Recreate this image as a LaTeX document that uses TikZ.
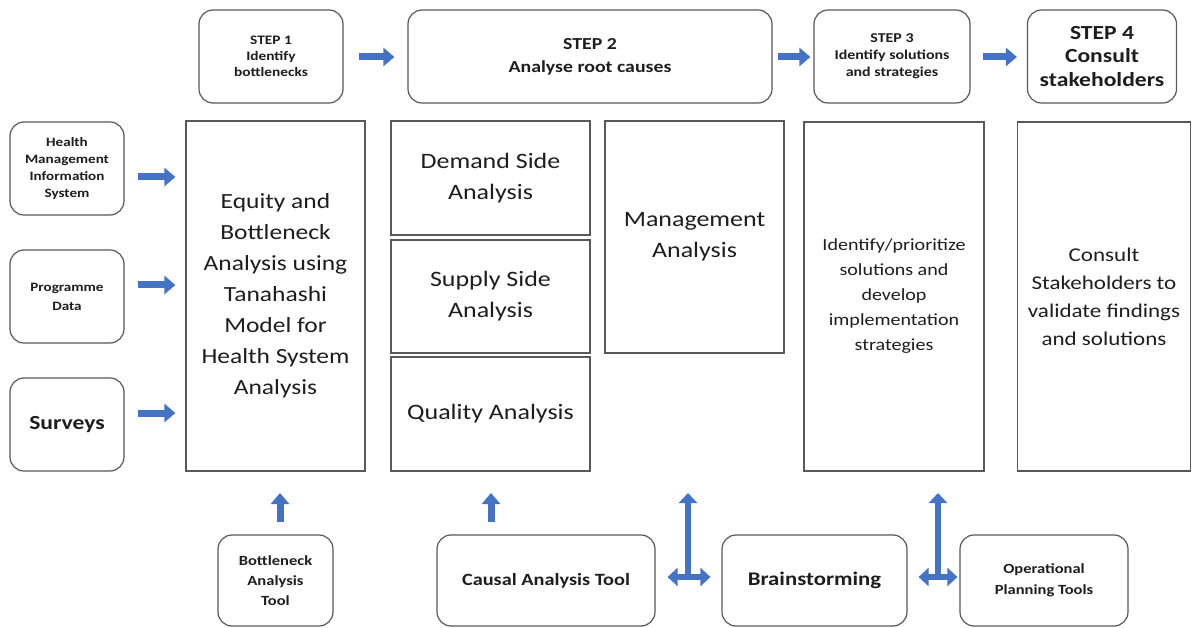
\documentclass[tikz,border=0pt]{standalone}
\usepackage{fontspec}
\setmainfont{Carlito}[FakeStretch=1.18]
\usetikzlibrary{arrows.meta}
\definecolor{abl}{HTML}{4472C4}
\definecolor{lc}{HTML}{595959}
\definecolor{tc}{HTML}{1E1E1E}
\newcommand\fsz[2]{\fontsize{#1}{#2}\selectfont}
\begin{document}
\begin{tikzpicture}[x=1pt,y=-1pt,
 box/.style={draw=lc,line width=1.2pt,text=tc,align=center,inner sep=2pt},
 rbox/.style={box,rounded corners=14pt},
 barr/.style={draw=abl,line width=7pt,-{Triangle[width=18pt,length=11pt]}},
 darr/.style={draw=abl,line width=6pt,{Triangle[width=18pt,length=10pt]}-{Triangle[width=18pt,length=10pt]}}]
\useasboundingbox[fill=white] (0,0) rectangle (1192,628);
% top steps
\node[rbox,minimum width=144pt,minimum height=93pt,font=\fsz{13}{16}\bfseries] (s1) at (271,56.5) {STEP 1\\Identify\\bottlenecks};
\node[rbox,minimum width=364pt,minimum height=93pt,font=\fsz{16.8}{23}\bfseries] (s2) at (590,56.5) {STEP 2\\Analyse root causes};
\node[rbox,minimum width=156pt,minimum height=93pt,font=\fsz{13.5}{17}\bfseries] (s3) at (892,56.5) {STEP 3\\Identify solutions\\and strategies};
\node[rbox,minimum width=149pt,minimum height=93pt,font=\fsz{20}{23.5}\bfseries] (s4) at (1102,56.5) {STEP 4\\Consult\\stakeholders};
% left sources
\node[rbox,minimum width=114pt,minimum height=93pt,font=\fsz{12.8}{17}\bfseries] (hmis) at (67,168.5) {Health\\Management\\Information\\System};
\node[rbox,minimum width=114pt,minimum height=93pt,font=\fsz{12.8}{19}\bfseries] (prog) at (67,296.5) {Programme\\Data};
\node[rbox,minimum width=114pt,minimum height=93pt,font=\fsz{20}{22}\bfseries] (surv) at (67,424.5) {Surveys};
% main boxes
\node[box,minimum width=179pt,minimum height=350pt,font=\fsz{21.6}{31}] (eq) at (275.5,296) {Equity and\\Bottleneck\\Analysis using\\Tanahashi\\Model for\\Health System\\Analysis};
\node[box,minimum width=199pt,minimum height=114pt,font=\fsz{22}{31}] (dem) at (490.5,178) {Demand Side\\Analysis};
\node[box,minimum width=199pt,minimum height=113pt,font=\fsz{22}{31}] (sup) at (490.5,296.5) {Supply Side\\Analysis};
\node[box,minimum width=199pt,minimum height=114pt,font=\fsz{22}{31}] (qual) at (490.5,414) {Quality Analysis};
\node[box,minimum width=179pt,minimum height=232pt,font=\fsz{22}{31}] (mgmt) at (694.5,237) {Management\\Analysis};
\node[box,minimum width=180pt,minimum height=349pt,font=\fsz{17}{25}] (idf) at (894,296.5) {Identify/prioritize\\solutions and\\develop\\implementation\\strategies};
\node[box,minimum width=173pt,minimum height=349pt,font=\fsz{19.5}{28}] (cons) at (1104,296.5) {Consult\\Stakeholders to\\validate findings\\and solutions};
% bottom tools
\node[rbox,minimum width=115pt,minimum height=91pt,font=\fsz{14}{20}\bfseries] (bat) at (275.5,580.5) {Bottleneck\\Analysis\\Tool};
\node[rbox,minimum width=218pt,minimum height=91pt,font=\fsz{17.2}{20}\bfseries] (cat) at (546,580.5) {Causal Analysis Tool};
\node[rbox,minimum width=185pt,minimum height=91pt,font=\fsz{19.3}{22}\bfseries] (brain) at (814.5,580.5) {Brainstorming};
\node[rbox,minimum width=168pt,minimum height=91pt,font=\fsz{14}{21}\bfseries] (opt) at (1044,580.5) {Operational\\Planning Tools};
% step arrows
\draw[barr,shorten <=15pt,shorten >=13pt] (s1.east |- 0,57) -- (s2.west |- 0,57);
\draw[barr,shorten <=5pt,shorten >=3pt] (s2.east |- 0,57) -- (s3.west |- 0,57);
\draw[barr,shorten <=12pt,shorten >=10pt] (s3.east |- 0,57) -- (s4.west |- 0,57);
% source arrows
\draw[barr,shorten <=13pt,shorten >=10pt] (hmis.east |- 0,177) -- (eq.west |- 0,177);
\draw[barr,shorten <=13pt,shorten >=10pt] (prog.east |- 0,285) -- (eq.west |- 0,285);
\draw[barr,shorten <=13pt,shorten >=10pt] (surv.east |- 0,413) -- (eq.west |- 0,413);
% up arrows
\coordinate (u1) at (280,493);
\coordinate (u2) at (491,493);
\draw[barr,shorten <=12pt] (bat.north -| u1) -- (u1);
\draw[barr,shorten <=12pt] (cat.north -| u2) -- (u2);
% double arrows
\coordinate (v1) at (688,493);
\coordinate (h1) at (688,577);
\coordinate (v2) at (938,493);
\coordinate (h2) at (938,577);
\draw[darr,shorten <=12pt,shorten >=11pt] (cat.east |- h1) -- (brain.west |- h1);
\draw[darr,-{Triangle[width=18pt,length=10pt]}] (h1) -- (v1);
\draw[darr,shorten <=11pt,shorten >=2pt] (brain.east |- h2) -- (opt.west |- h2);
\draw[darr,-{Triangle[width=18pt,length=10pt]}] (h2) -- (v2);
\end{tikzpicture}
\end{document}
